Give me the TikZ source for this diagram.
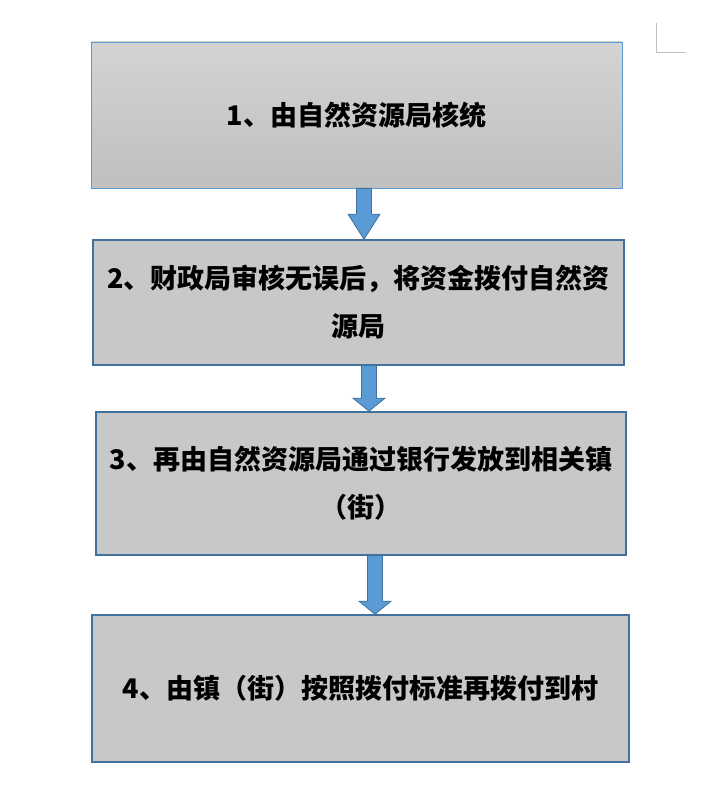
\documentclass[tikz,border=0pt]{standalone}
\usepackage{fontspec}
\newfontfamily\cjk{Noto Sans CJK SC}
\usetikzlibrary{calc}
\definecolor{boxline}{HTML}{41719C}
\definecolor{lightline}{HTML}{5B9BD5}
\definecolor{arrowblue}{HTML}{5B9BD5}
\definecolor{boxgray}{HTML}{C8C8C8}
\definecolor{marker}{HTML}{BFBFBF}

\tikzset{
  stepbox/.style={draw=boxline,line width=1.6pt,fill=boxgray,inner sep=0pt,
    align=center,font=\cjk\bfseries\fontsize{27}{48}\selectfont},
  fatarrow/.style={fill=arrowblue,draw=boxline,line width=0.8pt,line join=miter}
}
% block arrow: from node, to node, x offset, head length
\newcommand{\blockarrow}[4]{%
  \path[fatarrow] let \p1=($(#1.south)+(#3,0)$), \p2=($(#2.north)+(#3,0)$) in
    (\x1-7.5pt,\y1) -- (\x1+7.5pt,\y1) -- (\x1+7.5pt,\y2+#4) -- (\x1+16pt,\y2+#4)
    -- (\x1,\y2) -- (\x1-16pt,\y2+#4) -- (\x1-7.5pt,\y2+#4) -- cycle;
}

\begin{document}
\begin{tikzpicture}[x=1pt,y=-1pt]
\useasboundingbox (0,0) rectangle (707,794);

% corner mark
\draw[marker,line width=0.8pt] (656,23) -- (656,52) -- (686,52);

\node[stepbox,draw=lightline,line width=0.8pt,top color=black!17,bottom color=black!25,
  minimum width=531pt,minimum height=146pt] (s1) at (356.5,115) {1、由自然资源局核统};
\node[stepbox,minimum width=531pt,minimum height=125pt] (s2) at (358.5,302.5)
  {2、财政局审核无误后，将资金拨付自然资\\源局};
\node[stepbox,minimum width=530pt,minimum height=143pt] (s3) at (361,483.5)
  {3、再由自然资源局通过银行发放到相关镇\\（街）};
\node[stepbox,minimum width=537pt,minimum height=147pt] (s4) at (360.5,688.5)
  {4、由镇（街）按照拨付标准再拨付到村};

\blockarrow{s1}{s2}{7.5pt}{25pt}
\blockarrow{s2}{s3}{10.5pt}{13pt}
\blockarrow{s3}{s4}{14pt}{13pt}
\end{tikzpicture}
\end{document}
